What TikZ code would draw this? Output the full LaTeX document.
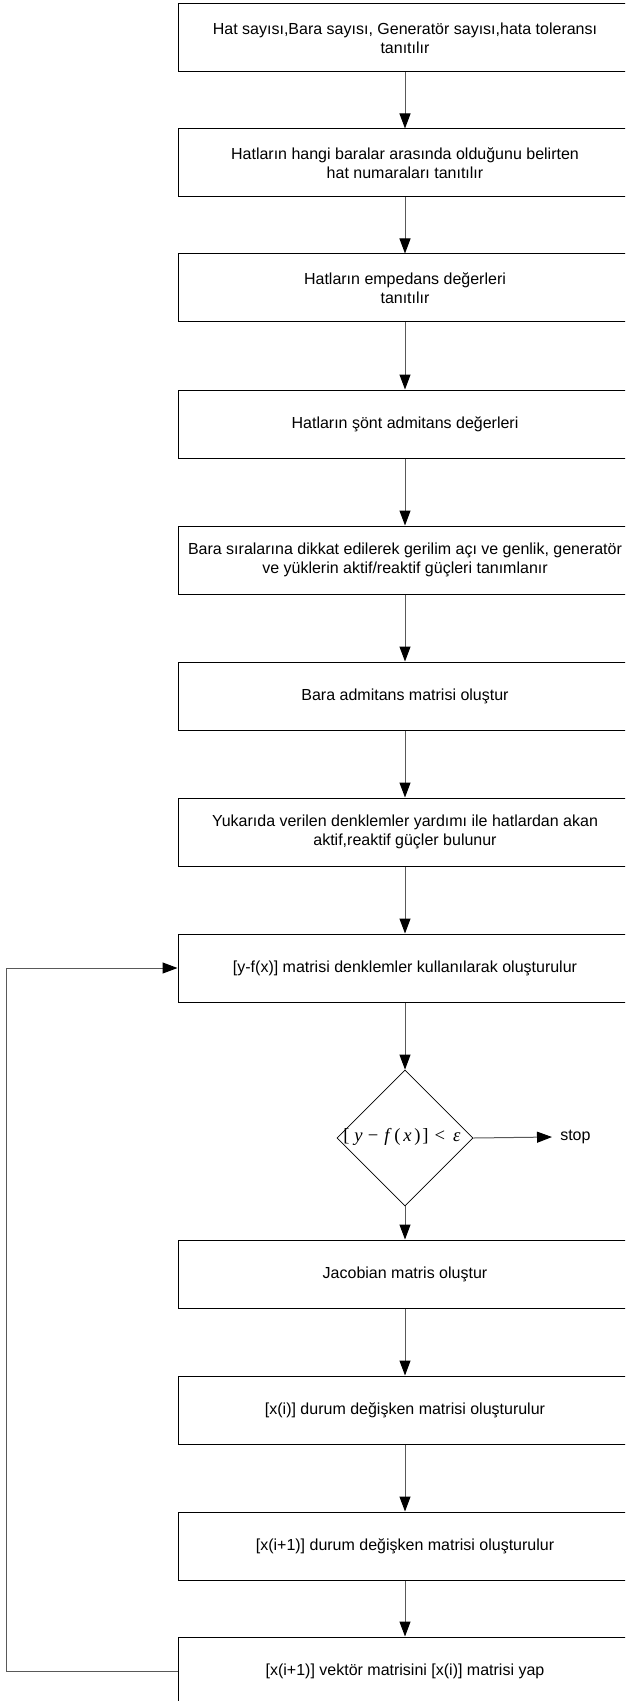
\documentclass[tikz,border=0pt]{standalone}
\usepackage{fontspec}
\setmainfont{Liberation Sans}
\newfontfamily\tmsfont{Liberation Serif}
\usetikzlibrary{arrows.meta,shapes.geometric}

\begin{document}
\begin{tikzpicture}[x=0.75pt,y=-0.75pt,
  stepbox/.style={draw=black, line width=0.75pt, rectangle,
    minimum width=340.5pt, minimum height=51pt, inner sep=0pt,
    align=center, font=\fontsize{12}{14.5}\selectfont},
  decbox/.style={draw=black, line width=0.6pt, diamond, aspect=1,
    minimum width=102pt, minimum height=102pt, inner sep=0pt},
  flow/.style={draw=black!65, line width=0.75pt,
    -{Triangle[length=11.25pt,width=8.25pt,fill=black,color=black]}},
  lbl/.style={font=\fontsize{12}{14}\selectfont, inner sep=0pt}]
\clip (0,0) rectangle (625,1701);

% main chain of steps
\node[stepbox] (b1) at (405,38)   {Hat sayısı,Bara sayısı, Generatör sayısı,hata toleransı\\tanıtılır};
\node[stepbox] (b2) at (405,163)  {Hatların hangi baralar arasında olduğunu belirten\\hat numaraları tanıtılır};
\node[stepbox] (b3) at (405,288)  {Hatların empedans değerleri\\tanıtılır};
\node[stepbox] (b4) at (405,424)  {Hatların şönt admitans değerleri};
\node[stepbox] (b5) at (405,560)  {Bara sıralarına dikkat edilerek gerilim açı ve genlik, generatör\\ve yüklerin aktif/reaktif güçleri tanımlanır};
\node[stepbox] (b6) at (405,696)  {Bara admitans matrisi oluştur};
\node[stepbox] (b7) at (405,832)  {Yukarıda verilen denklemler yardımı ile hatlardan akan\\aktif,reaktif güçler bulunur};
\node[stepbox] (b8) at (405,968)  {[y-f(x)] matrisi denklemler kullanılarak oluşturulur};

% convergence test
\node[decbox] (dec) at (405,1138) {};
\node[inner sep=0pt, font=\fontsize{14}{16}\tmsfont] (cond) at (402,1137)
  {[\kern3.5pt\textit{y}\kern4pt−\kern4.5pt\textit{f}\kern2pt(\kern2pt\textit{x}\kern2pt)\kern1.5pt]\kern4.5pt<\kern6pt\textit{ε}};
\node[lbl, anchor=west, inner xsep=6pt] (stop) at (552,1137) {stop};

\node[stepbox] (b9)  at (405,1274) {Jacobian matris oluştur};
\node[stepbox] (b10) at (405,1410) {[x(i)] durum değişken matrisi oluşturulur};
\node[stepbox] (b11) at (405,1546) {[x(i+1)] durum değişken matrisi oluşturulur};
\node[stepbox] (b12) at (405,1671) {[x(i+1)] vektör matrisini [x(i)] matrisi yap};

% connectors
\draw[flow] (b1) -- (b2);
\draw[flow] (b2) -- (b3);
\draw[flow] (b3) -- (b4);
\draw[flow] (b4) -- (b5);
\draw[flow] (b5) -- (b6);
\draw[flow] (b6) -- (b7);
\draw[flow] (b7) -- (b8);
\draw[flow] (b8) -- (dec.north);
\draw[flow] (dec.south) -- (b9);
\draw[flow] (dec.east) -- (stop.west);
\draw[flow] (b9) -- (b10);
\draw[flow] (b10) -- (b11);
\draw[flow] (b11) -- (b12);
\draw[flow] (b12.west) -- ++(-171,0) |- (b8.west);
\end{tikzpicture}
\end{document}
